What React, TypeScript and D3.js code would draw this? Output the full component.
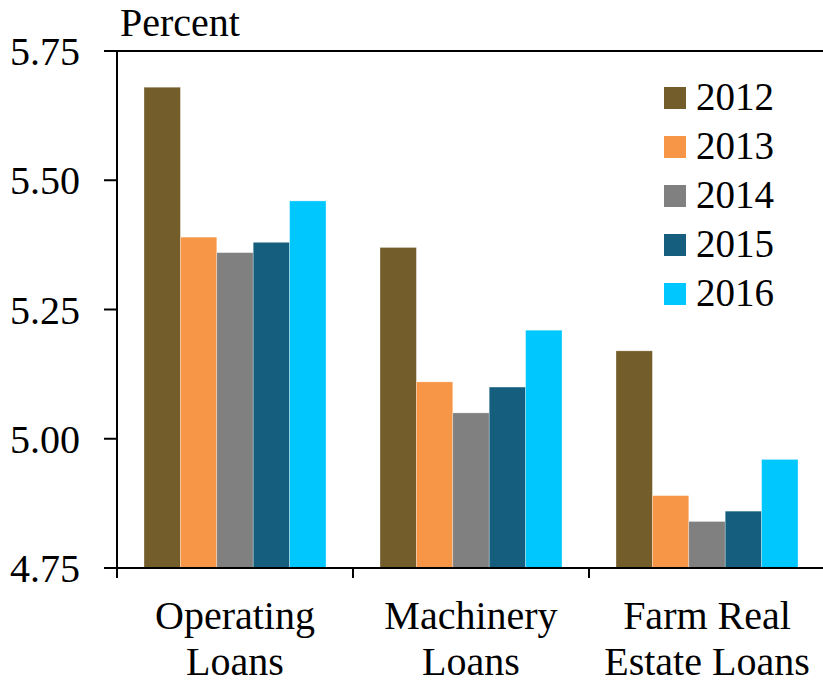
import React from "react";
import * as d3 from "d3";

const categories = ["Operating Loans", "Machinery Loans", "Farm Real Estate Loans"];
const categoryLines = [["Operating", "Loans"], ["Machinery", "Loans"], ["Farm Real", "Estate Loans"]];
const years = ["2012", "2013", "2014", "2015", "2016"];
const colors = ["#735E2B", "#F79646", "#808080", "#155E7E", "#00C8FF"];
const values2012 = [5.68, 5.37, 5.17];
const values2013 = [5.39, 5.11, 4.89];
const values2014 = [5.36, 5.05, 4.84];
const values2015 = [5.38, 5.10, 4.86];
const values2016 = [5.46, 5.21, 4.96];
const yTicks = [4.75, 5.0, 5.25, 5.5, 5.75];

const series = [values2012, values2013, values2014, values2015, values2016];

export default function App() {
  const W = 823, H = 683;
  const left = 117, top = 51, bottom = 568;
  const groupW = 236;
  const y = d3.scaleLinear().domain([4.75, 5.75]).range([bottom, top]);
  const x = d3.scaleBand().domain(categories).range([left, left + groupW * 3]).padding(0);
  const inner = d3.scaleBand().domain(years).range([27, 209]).padding(0);
  const font = "'Liberation Serif', 'Times New Roman', serif";

  return (
    <svg width={W} height={H} style={{ position: "absolute", left: 0, top: 0, background: "#fff" }} fontFamily={font}>
      {categories.map((c, ci) =>
        years.map((yr, si) => {
          const v = series[si][ci];
          const bx = (x(c) as number) + (inner(yr) as number);
          return (
            <rect key={c + yr} x={bx} y={y(v)} width={inner.bandwidth()} height={bottom - y(v)}
              fill={colors[si]} stroke="#ffffff" strokeOpacity={0.5} strokeWidth={0.6} />
          );
        })
      )}
      <line x1={104} x2={W} y1={y(5.75)} y2={y(5.75)} stroke="#000" strokeWidth={2} />
      <line x1={left} x2={left} y1={top} y2={bottom + 10} stroke="#000" strokeWidth={2} />
      {yTicks.map(t => (
        <g key={t}>
          <line x1={104} x2={left} y1={y(t)} y2={y(t)} stroke="#000" strokeWidth={2} />
          <text x={80} y={y(t)} dy="0.35em" textAnchor="end" fontSize={40} fill="#000">{t.toFixed(2)}</text>
        </g>
      ))}
      <line x1={104} x2={W} y1={bottom} y2={bottom} stroke="#000" strokeWidth={2} />
      {categories.map((c, ci) => (
        <g key={c}>
          {ci > 0 && <line x1={x(c) as number} x2={x(c) as number} y1={bottom} y2={bottom + 10} stroke="#000" strokeWidth={2} />}
          {categoryLines[ci].map((ln, li) => (
            <text key={ln} x={(x(c) as number) + groupW / 2} y={629 + li * 46} textAnchor="middle" fontSize={40} fill="#000">{ln}</text>
          ))}
        </g>
      ))}
      <text x={120} y={36} fontSize={40} fill="#000">Percent</text>
      {years.map((yr, i) => (
        <g key={yr}>
          <rect x={664} y={87 + i * 49} width={22} height={22} fill={colors[i]} />
          <text x={696} y={110 + i * 49} fontSize={39} fill="#000">{yr}</text>
        </g>
      ))}
    </svg>
  );
}
